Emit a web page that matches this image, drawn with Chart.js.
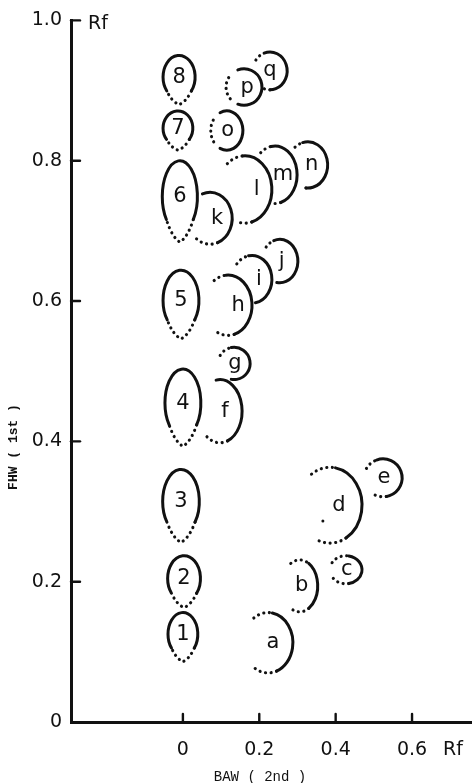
<!DOCTYPE html>
<html>
<head>
<meta charset="utf-8">
<script src="https://cdn.jsdelivr.net/npm/chart.js@4.4.1/dist/chart.umd.min.js"></script>
<style>
  html, body { margin: 0; padding: 0; background: #fff; }
  #wrap { width: 472px; height: 783px; position: relative; }
</style>
</head>
<body>
<div id="wrap"><canvas id="tlc"></canvas></div>
<script>
// spots: name, centre (Rf BAW, Rf FHW) and half size in Rf units
const spotNames = ['1', '2', '3', '4', '5', '6', '7', '8',
  'a', 'b', 'c', 'd', 'e', 'f', 'g', 'h', 'i', 'j', 'k', 'l', 'm', 'n', 'o', 'p', 'q'];
const spotX = [0.000, 0.003, -0.005, 0.000, -0.005, -0.008, -0.013, -0.010,
  0.223, 0.306, 0.427, 0.385, 0.524, 0.097, 0.134, 0.118, 0.181, 0.254, 0.071, 0.162, 0.241, 0.327, 0.115, 0.160, 0.228];
const spotY = [0.121, 0.200, 0.308, 0.448, 0.595, 0.742, 0.843, 0.915,
  0.113, 0.194, 0.217, 0.309, 0.348, 0.443, 0.511, 0.594, 0.631, 0.657, 0.718, 0.759, 0.780, 0.794, 0.843, 0.905, 0.928];
const spotHalfW = [0.039, 0.043, 0.048, 0.047, 0.047, 0.046, 0.039, 0.042,
  0.065, 0.047, 0.042, 0.084, 0.050, 0.058, 0.042, 0.063, 0.052, 0.047, 0.058, 0.071, 0.058, 0.052, 0.042, 0.047, 0.045];
const spotHalfH = [0.035, 0.037, 0.052, 0.055, 0.049, 0.058, 0.028, 0.035,
  0.043, 0.037, 0.020, 0.054, 0.027, 0.045, 0.023, 0.043, 0.034, 0.031, 0.037, 0.048, 0.041, 0.033, 0.028, 0.026, 0.027];

const xTicks = [0, 0.2, 0.4, 0.6];
const yTicks = [0, 0.2, 0.4, 0.6, 0.8, 1.0];

const ink = '#111';
const rad = d => d * Math.PI / 180;

// how the lettered spots are traced: solid arc, dotted arcs (degrees, 0 = right, 90 = down), label shift
const strokes = {
  a: { solid: [-80, 70], dots: [[-125, -80], [70, 125]], lab: 0.2 },
  b: { solid: [-60, 60], dots: [[-120, -60], [60, 120]], lab: 0.1 },
  c: { solid: [-80, 80], dots: [[-150, -80], [80, 150]], lab: 0.05 },
  d: { solid: [-80, 60], dots: [[-125, -80], [60, 115]], lab: 0.28, stray: [-0.22, 0.42] },
  e: { solid: [-110, 80], dots: [[-150, -110], [80, 130]], lab: 0.05 },
  f: { solid: [-100, 70], dots: [[70, 130]], lab: 0.23 },
  g: { solid: [-100, 100], dots: [[-150, -100]], lab: 0.05 },
  h: { solid: [-95, 75], dots: [[-125, -95], [75, 115]], lab: 0.42 },
  i: { solid: [-100, 80], dots: [[-140, -100]], lab: 0.35 },
  j: { solid: [-110, 100], dots: [[-140, -110]], lab: 0.1 },
  k: { solid: [-110, 70], dots: [[70, 130]], lab: 0.32 },
  l: { solid: [-95, 75], dots: [[-130, -95], [75, 110]], lab: 0.44 },
  m: { solid: [-100, 75], dots: [[-130, -100], [75, 100]], lab: 0.36 },
  n: { solid: [-105, 95], dots: [[-130, -105], [95, 110]], lab: 0.2 },
  o: { solid: [-115, 115], dots: [[145, 215]], lab: 0.05 },
  p: { solid: [-110, 110], dots: [[140, 220]], lab: 0.17 },
  q: { solid: [-110, 90], dots: [[-145, -110], [90, 115]], lab: 0 }
};

const dotted = ctx => { ctx.setLineDash([0.1, 5.5]); ctx.lineWidth = 3.1; };
const solid = ctx => { ctx.setLineDash([]); ctx.lineWidth = 3; };

function drawTear(ctx, cx, cy, rx, ry) {
  const ey = cy - 0.12 * ry, ery = 0.88 * ry;
  const a0 = rad(40), a1 = rad(140);
  solid(ctx);
  ctx.beginPath();
  ctx.ellipse(cx, ey, rx, ery, 0, a0, a1, true);
  ctx.stroke();
  const tipY = cy + ry;
  const sy = ey + ery * Math.sin(a0);
  dotted(ctx);
  ctx.beginPath();
  ctx.moveTo(cx + rx * Math.cos(a0), sy);
  ctx.quadraticCurveTo(cx + rx * 0.45, tipY - ry * 0.12, cx, tipY);
  ctx.quadraticCurveTo(cx - rx * 0.45, tipY - ry * 0.12, cx + rx * Math.cos(a1), sy);
  ctx.stroke();
  return ey;
}

function drawArc(ctx, cx, cy, rx, ry, st) {
  solid(ctx);
  ctx.beginPath();
  ctx.ellipse(cx, cy, rx, ry, 0, rad(st.solid[0]), rad(st.solid[1]));
  ctx.stroke();
  dotted(ctx);
  st.dots.forEach(d => {
    ctx.beginPath();
    ctx.ellipse(cx, cy, rx, ry, 0, rad(d[0]), rad(d[1]));
    ctx.stroke();
  });
  if (st.stray) {
    ctx.beginPath();
    ctx.arc(cx + st.stray[0] * rx, cy + st.stray[1] * ry, 1.5, 0, Math.PI * 2);
    ctx.fill();
  }
}

const spotPlugin = {
  id: 'spots',
  afterDraw(chart) {
    const { ctx, scales: { x, y } } = chart;
    ctx.save();
    ctx.strokeStyle = ink;
    ctx.fillStyle = ink;
    ctx.lineCap = 'round';

    // tick marks point into the plot
    ctx.lineWidth = 2.4;
    yTicks.forEach(v => {
      if (v === 0) return;
      const py = y.getPixelForValue(v);
      ctx.beginPath(); ctx.moveTo(x.left, py); ctx.lineTo(x.left + 9, py); ctx.stroke();
    });
    xTicks.forEach(v => {
      const px = x.getPixelForValue(v);
      ctx.beginPath(); ctx.moveTo(px, y.bottom); ctx.lineTo(px, y.bottom - 8); ctx.stroke();
    });

    // spots
    ctx.textAlign = 'center';
    ctx.textBaseline = 'middle';
    ctx.font = '21px "DejaVu Sans"';
    spotNames.forEach((name, i) => {
      const cx = x.getPixelForValue(spotX[i]);
      const cy = y.getPixelForValue(spotY[i]);
      const rx = x.getPixelForValue(spotX[i] + spotHalfW[i]) - cx;
      const ry = cy - y.getPixelForValue(spotY[i] + spotHalfH[i]);
      const st = strokes[name];
      if (st) {
        drawArc(ctx, cx, cy, rx, ry, st);
        ctx.setLineDash([]);
        ctx.fillText(name, cx + st.lab * rx, cy);
      } else {
        const ly = drawTear(ctx, cx, cy, rx, ry);
        ctx.setLineDash([]);
        ctx.fillText(name, cx, ly);
      }
    });

    // unit marks and axis titles
    ctx.setLineDash([]);
    ctx.textAlign = 'left';
    ctx.font = '19px "DejaVu Sans"';
    ctx.fillText('Rf', x.left + 17, y.top + 4);
    ctx.fillText('Rf', x.getPixelForValue(0.6) + 31, y.bottom + 28);

    ctx.font = '14px "Liberation Mono"';
    ctx.textAlign = 'center';
    ctx.fillText('BAW ( 2nd )', 260, y.bottom + 55);
    ctx.translate(14, 447);
    ctx.rotate(-Math.PI / 2);
    ctx.font = 'bold 13px "Liberation Mono"';
    ctx.fillText('FHW ( 1st )', 0, 0);
    ctx.restore();
  }
};

const tickFont = { family: 'DejaVu Sans', size: 19 };
const fmt = v => (v === 0 ? '0' : v.toFixed(1));

new Chart(document.getElementById('tlc'), {
  type: 'scatter',
  data: {
    datasets: [{
      label: 'spots',
      data: spotX.map((v, i) => ({ x: v, y: spotY[i] })),
      pointRadius: 0,
      pointHoverRadius: 0
    }]
  },
  options: {
    responsive: true,
    maintainAspectRatio: false,
    animation: false,
    layout: { padding: { top: 17, right: 0, bottom: 0, left: 0 } },
    plugins: { legend: { display: false }, tooltip: { enabled: false } },
    scales: {
      x: {
        type: 'linear',
        min: -0.293,
        max: 0.757,
        afterBuildTicks: s => { s.ticks = xTicks.map(v => ({ value: v })); },
        afterFit: s => { s.height = 61; },
        grid: { display: false, drawTicks: false },
        border: { display: true, color: ink, width: 3 },
        ticks: { autoSkip: false, maxRotation: 0, padding: 17, color: ink, font: tickFont, callback: fmt }
      },
      y: {
        type: 'linear',
        min: 0,
        max: 1,
        afterBuildTicks: s => { s.ticks = yTicks.map(v => ({ value: v })); },
        afterFit: s => { s.width = 71; },
        grid: { display: false, drawTicks: false },
        border: { display: true, color: ink, width: 3 },
        ticks: { autoSkip: false, padding: 9, color: ink, font: tickFont, callback: fmt }
      }
    }
  },
  plugins: [spotPlugin]
});
</script>
</body>
</html>
